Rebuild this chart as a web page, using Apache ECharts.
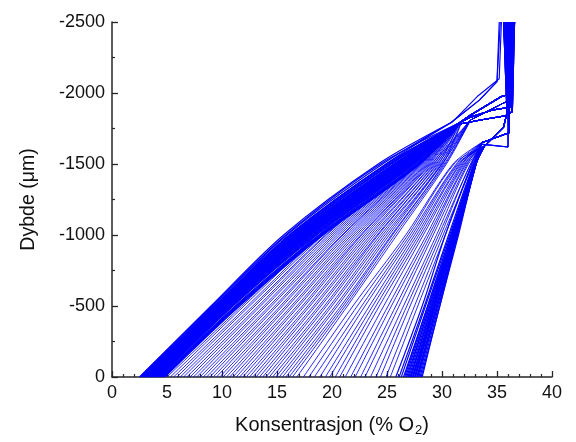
<!DOCTYPE html>
<html>
<head>
<meta charset="utf-8">
<script src="https://cdn.jsdelivr.net/npm/echarts@6/dist/echarts.min.js"></script>
<style>
html,body{margin:0;padding:0;background:#fff;}
#chart{width:576px;height:442px;}
</style>
</head>
<body>
<div id="chart"></div>
<script>
// Depth levels (µm) at which each profile's concentration is read
const depthLevels = [0, -500, -1000, -1500];

// Upper parts of the profiles (after the knee), [x, depth]
const topPaths = [
  [[30.8, -1790], [33.4, -1950], [35.0, -2080]],
  [[31.6, -1790], [32.5, -1840], [35.4, -1975], [36.1, -1990]],
  [[31.8, -1800], [32.6, -1830], [34.6, -1880], [36.2, -1900]],
  [[31.5, -1780], [33.5, -1810], [35.8, -1840], [36.4, -1870]],
  [[33.6, -1650], [36.1, -1720]],
  [[33.9, -1630], [35.6, -1760], [35.9, -1860]],
  [[33.5, -1640], [36.0, -1620]],
  [[32.6, -1810], [33.6, -1850], [35.6, -1930], [36.3, -1950]],
  [[31.0, -1800], [33.2, -1975], [35.2, -2100]]
];

// Profiles: [x at 0, x at -500, x at -1000, x at -1500, top path, x at -2500]
const profilesA1 = [
  [2.5, 9.0, 15.6, 24.2, 0, 35.2],
  [2.55, 9.1, 15.8, 24.4, 1, 36.0],
  [2.6, 9.2, 15.9, 24.6, 8, 35.4],
  [2.7, 9.3, 16.1, 24.9, 0, 35.3],
  [2.75, 9.35, 16.15, 24.95, 2, 36.2],
  [2.8, 9.4, 16.2, 25.0, 1, 36.0],
  [2.85, 9.45, 16.3, 25.15, 3, 36.4],
  [2.9, 9.5, 16.4, 25.3, 1, 36.1],
  [2.95, 9.5, 16.45, 25.35, 1, 36.5],
  [3.0, 9.5, 16.5, 25.4, 2, 36.3],
  [3.0, 9.6, 16.6, 25.6, 3, 36.4],
  [3.05, 9.65, 16.65, 25.65, 2, 36.1],
  [3.1, 9.7, 16.7, 25.7, 1, 36.2],
  [3.15, 9.7, 16.75, 25.75, 3, 36.3],
  [3.2, 9.7, 16.8, 25.8, 2, 36.5],
  [3.2, 9.8, 16.9, 25.9, 3, 36.3],
  [3.25, 9.85, 16.95, 25.95, 1, 36.6],
  [3.3, 9.9, 17.0, 26.0, 1, 36.0],
  [3.35, 9.9, 17.05, 26.05, 2, 36.2],
  [3.4, 9.9, 17.1, 26.1, 2, 36.4],
  [3.4, 10.0, 17.2, 26.2, 3, 36.6],
  [3.45, 10.0, 17.25, 26.25, 3, 36.0],
  [3.5, 10.0, 17.3, 26.3, 1, 36.1],
  [3.55, 10.05, 17.35, 26.35, 1, 36.4],
  [3.6, 10.1, 17.4, 26.4, 2, 36.5],
  [3.65, 10.15, 17.45, 26.45, 2, 36.5],
  [3.7, 10.2, 17.5, 26.5, 3, 36.2],
  [3.7, 10.2, 17.6, 26.6, 1, 36.3],
  [3.75, 10.25, 17.65, 26.65, 3, 36.1],
  [3.8, 10.3, 17.7, 26.7, 2, 36.4],
  [3.85, 10.35, 17.75, 26.75, 1, 36.3],
  [3.9, 10.4, 17.8, 26.8, 3, 36.6],
  [3.95, 10.45, 17.85, 26.85, 2, 36.6],
  [4.0, 10.5, 17.9, 26.9, 1, 36.0],
  [4.05, 10.55, 17.95, 26.95, 3, 36.2],
  [4.1, 10.6, 18.0, 27.0, 2, 36.5],
  [4.15, 10.65, 18.1, 27.1, 1, 36.4],
  [4.2, 10.7, 18.2, 27.2, 3, 36.3],
  [4.25, 10.8, 18.3, 27.3, 2, 36.0],
  [4.3, 10.9, 18.4, 27.4, 1, 36.2],
  [4.35, 10.95, 18.5, 27.45, 3, 36.5],
  [4.4, 11.0, 18.6, 27.5, 2, 36.4],
  [4.5, 11.2, 18.8, 27.7, 3, 36.5],
  [4.55, 11.3, 18.9, 27.8, 1, 36.3],
  [4.6, 11.4, 19.0, 27.9, 1, 36.1],
  [4.7, 11.5, 19.1, 27.95, 2, 36.1],
  [4.8, 11.6, 19.2, 28.0, 2, 36.6]
];

const profilesA2 = [
  [5.0, 11.8, 18.6, 26.6, 3, 36.2],
  [5.3, 12.0, 18.8, 26.7, 1, 36.4],
  [5.6, 12.3, 19.0, 26.8, 2, 35.9],
  [5.9, 12.5, 19.2, 26.9, 3, 36.5],
  [6.2, 12.8, 19.4, 27.0, 1, 36.1],
  [6.5, 13.0, 19.5, 27.1, 2, 36.3],
  [6.8, 13.3, 19.7, 27.2, 3, 35.7],
  [7.1, 13.5, 19.9, 27.3, 1, 36.6],
  [7.4, 13.8, 20.1, 27.4, 2, 36.2],
  [7.7, 14.0, 20.3, 27.5, 3, 36.4],
  [8.0, 14.3, 20.5, 27.6, 1, 35.9],
  [8.3, 14.5, 20.7, 27.7, 2, 36.5],
  [8.6, 14.8, 20.9, 27.8, 3, 36.1],
  [8.9, 15.0, 21.0, 27.9, 1, 36.3],
  [9.2, 15.3, 21.2, 28.0, 2, 35.7],
  [9.5, 15.5, 21.4, 28.1, 3, 36.6],
  [9.8, 15.8, 21.6, 28.2, 1, 36.2],
  [10.1, 16.0, 21.8, 28.3, 2, 36.4],
  [10.4, 16.3, 22.0, 28.4, 3, 35.9],
  [10.7, 16.5, 22.2, 28.5, 1, 36.5],
  [11.0, 16.8, 22.4, 28.6, 2, 36.1],
  [11.3, 17.0, 22.6, 28.7, 3, 36.3],
  [11.6, 17.3, 22.7, 28.8, 1, 35.7],
  [11.9, 17.5, 22.9, 28.9, 2, 36.6],
  [12.2, 17.8, 23.1, 29.0, 7, 36.2],
  [12.5, 18.0, 23.3, 29.1, 3, 36.4],
  [12.8, 18.3, 23.5, 29.2, 7, 35.9],
  [13.1, 18.5, 23.7, 29.3, 1, 36.5],
  [13.4, 18.8, 23.9, 29.4, 7, 36.1],
  [13.7, 19.0, 24.1, 29.5, 2, 36.3],
  [14.0, 19.3, 24.2, 29.6, 7, 35.7],
  [14.3, 19.5, 24.4, 29.7, 3, 36.6],
  [14.6, 19.8, 24.6, 29.8, 7, 36.2],
  [14.9, 20.0, 24.8, 29.9, 2, 36.4],
  [15.2, 20.3, 25.0, 30.0, 7, 35.9],
  [15.5, 20.5, 25.2, 30.0, 7, 36.5],
  [15.8, 20.8, 25.4, 30.1, 2, 36.1],
  [16.1, 21.0, 25.5, 30.2, 7, 36.3],
  [16.4, 21.2, 25.7, 30.3, 7, 35.8],
  [16.8, 21.4, 25.9, 30.4, 7, 36.6]
];

const profilesB1 = [
  [17.4, 21.9, 26.7, 31.0, 4, 36.1],
  [17.9, 22.3, 26.9, 31.1, 5, 35.8],
  [18.4, 22.7, 27.1, 31.3, 4, 36.3],
  [18.9, 23.0, 27.3, 31.4, 5, 36.0],
  [19.4, 23.4, 27.5, 31.5, 5, 35.6],
  [19.8, 23.7, 27.7, 31.6, 4, 36.2],
  [20.3, 24.0, 27.9, 31.7, 5, 36.1],
  [20.7, 24.3, 28.1, 31.8, 6, 35.8],
  [21.2, 24.7, 28.3, 31.9, 4, 36.3],
  [21.7, 25.1, 28.6, 32.0, 5, 36.0],
  [22.1, 25.4, 28.8, 32.1, 4, 35.6],
  [22.6, 25.8, 29.0, 32.2, 5, 36.2],
  [23.0, 26.1, 29.2, 32.3, 4, 36.1],
  [23.5, 26.5, 29.5, 32.4, 5, 35.8],
  [24.0, 26.8, 29.7, 32.6, 4, 36.3],
  [24.4, 27.1, 29.9, 32.6, 5, 36.0],
  [24.9, 27.5, 30.1, 32.8, 4, 35.6],
  [25.3, 27.8, 30.3, 32.8, 5, 36.2]
];

const profilesB2 = [
  [25.8, 28.2, 30.3, 32.7, 4, 36.1],
  [26.1, 28.4, 30.6, 32.9, 5, 35.8],
  [26.3, 28.5, 30.7, 32.9, 6, 36.3],
  [26.5, 28.7, 30.8, 33.0, 4, 36.0],
  [26.6, 28.7, 30.8, 33.0, 5, 35.6],
  [26.7, 28.8, 30.9, 33.0, 4, 36.2],
  [26.8, 28.9, 30.9, 33.0, 5, 36.1],
  [26.9, 28.9, 31.0, 33.0, 4, 35.8],
  [27.0, 29.0, 31.0, 33.0, 5, 36.3],
  [27.1, 29.1, 31.0, 33.0, 4, 36.0],
  [27.15, 29.1, 31.05, 33.05, 5, 35.6],
  [27.2, 29.1, 31.1, 33.0, 4, 36.2],
  [27.3, 29.2, 31.1, 33.0, 6, 36.1],
  [27.35, 29.25, 31.15, 33.05, 4, 35.8],
  [27.4, 29.3, 31.2, 33.0, 5, 36.3],
  [27.5, 29.3, 31.2, 33.0, 4, 36.0],
  [27.55, 29.35, 31.2, 33.05, 5, 35.6],
  [27.6, 29.4, 31.2, 33.1, 4, 36.2],
  [27.7, 29.5, 31.3, 33.1, 5, 36.1],
  [27.75, 29.5, 31.3, 33.1, 4, 35.8],
  [27.8, 29.6, 31.3, 33.1, 5, 36.3],
  [27.9, 29.6, 31.4, 33.1, 4, 36.0],
  [28.0, 29.7, 31.4, 33.1, 5, 36.2],
  [28.1, 29.8, 31.4, 33.1, 4, 36.1],
  [28.2, 29.8, 31.5, 33.1, 5, 36.4]
];

const xTicks = [0, 40, 5];
const yTicks = [-2500, 0, 500];

// lower part: depth levels + knee; upper part: knee .. top
function lowerPart(row) {
  const pts = depthLevels.map((d, i) => [row[i], d]);
  pts.push(topPaths[row[4]][0]);
  return pts;
}
function upperPart(row) {
  const pts = topPaths[row[4]].slice();
  pts.push([row[5], -2500]);
  return pts;
}

const series = [];
function addGroup(rows, width) {
  const lineStyle = { color: '#0000ff', width: width };
  rows.forEach(row => {
    series.push({
      type: 'line', data: lowerPart(row), symbol: 'none', silent: true,
      smooth: 0.3, lineStyle: lineStyle, animation: false
    });
    series.push({
      type: 'line', data: upperPart(row), symbol: 'none', silent: true,
      lineStyle: lineStyle, animation: false
    });
  });
}
addGroup(profilesA2, 0.85);
addGroup(profilesB1, 0.85);
addGroup(profilesA1, 1.15);
addGroup(profilesB2, 1.15);

const font = "'Liberation Sans', Arial, sans-serif";
const axisColor = '#262626';

const chart = echarts.init(document.getElementById('chart'), null, { renderer: 'canvas' });
chart.setOption({
  animation: false,
  backgroundColor: '#ffffff',
  grid: { left: 112, right: 24, top: 22, bottom: 61, containLabel: false },
  xAxis: {
    type: 'value',
    min: xTicks[0], max: xTicks[1], interval: xTicks[2],
    name: 'Konsentrasjon (% O{s|2})',
    nameLocation: 'middle',
    nameGap: 36,
    nameTextStyle: {
      fontFamily: font, fontSize: 20, color: '#111',
      rich: { s: { fontFamily: font, fontSize: 13, color: '#111', verticalAlign: 'top', padding: [11, 0, 0, 1] } }
    },
    axisLine: { show: true, onZero: false, lineStyle: { color: axisColor, width: 1.5 } },
    axisTick: { show: true, inside: true, length: 6, lineStyle: { color: axisColor, width: 1.3 } },
    minorTick: { show: true, splitNumber: 5, length: 3, lineStyle: { color: axisColor, width: 1.2 } },
    splitLine: { show: false },
    axisLabel: { fontFamily: font, fontSize: 18, color: '#111', margin: 7 }
  },
  yAxis: {
    type: 'value',
    min: yTicks[0], max: yTicks[1], interval: yTicks[2],
    inverse: true,
    name: 'Dybde (\u03bcm)',
    nameLocation: 'middle',
    nameGap: 73,
    nameRotate: 90,
    nameTextStyle: { fontFamily: font, fontSize: 19.5, color: '#111' },
    axisLine: { show: true, onZero: false, lineStyle: { color: axisColor, width: 1.5 } },
    axisTick: { show: true, inside: true, length: 6, lineStyle: { color: axisColor, width: 1.3 } },
    minorTick: { show: true, splitNumber: 2, length: 3, lineStyle: { color: axisColor, width: 1.2 } },
    splitLine: { show: false },
    axisLabel: { fontFamily: font, fontSize: 18, color: '#111', margin: 7, formatter: v => String(v) }
  },
  series: series
});
</script>
</body>
</html>
